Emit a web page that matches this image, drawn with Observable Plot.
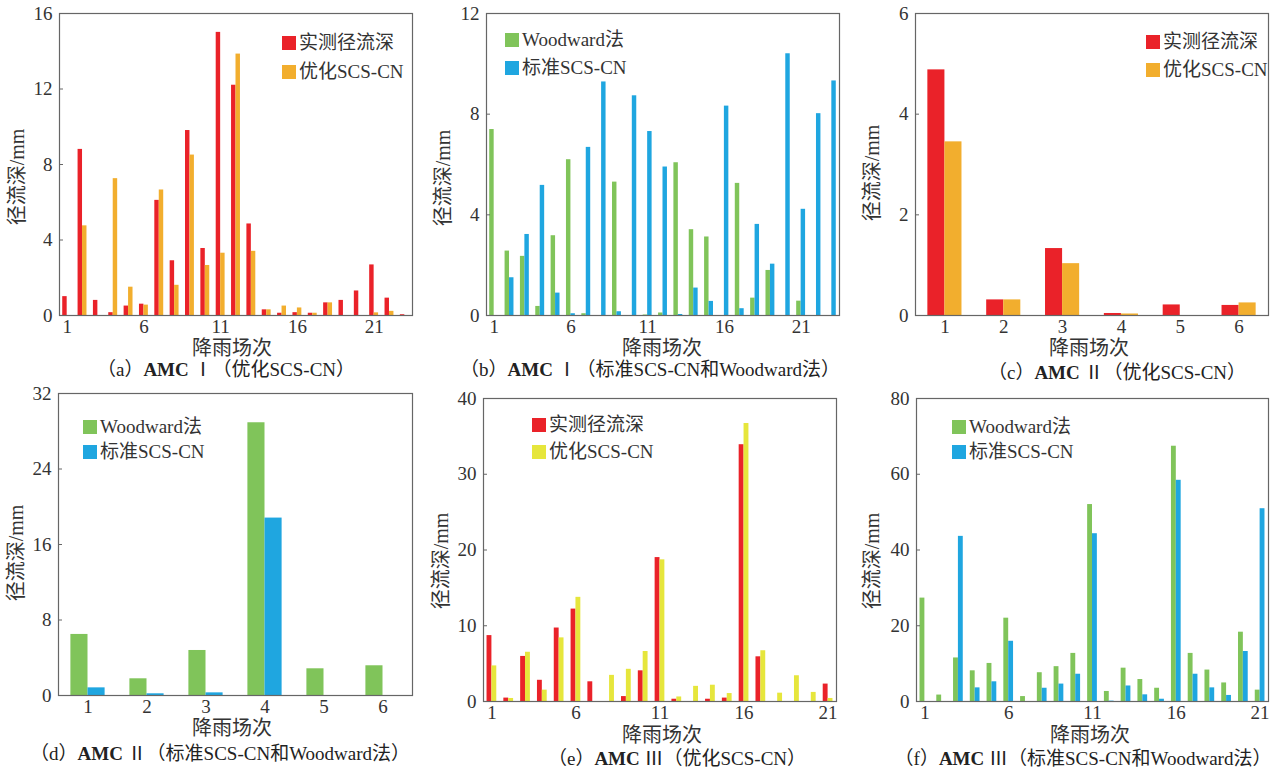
<!DOCTYPE html>
<html><head><meta charset="utf-8">
<script src="https://cdn.jsdelivr.net/npm/d3@7"></script>
<script src="https://cdn.jsdelivr.net/npm/@observablehq/plot@0.6"></script>
<style>
body{margin:0;background:#fff;}
#root{position:relative;width:1282px;height:770px;overflow:hidden;font-family:'Liberation Serif','Noto Sans CJK SC',serif;color:#333;background:#fff;}
.panel{position:absolute;}
.t{position:absolute;white-space:nowrap;transform:translate(-50%,-50%);line-height:1;}
.xl{font-size:20px;}
.yl{font-size:20px;transform:translate(-50%,-50%) rotate(-90deg);}
.cap{font-size:19px;color:#222;}
.cap b{font-weight:bold;}
.leg{position:absolute;font-size:19px;white-space:nowrap;line-height:20px;height:20px;}
.sw{display:inline-block;width:14px;height:14px;margin-right:3px;vertical-align:-1px;}
</style></head>
<body><div id="root"></div>
<script>
// ---- colours ----
const RED = "#ea2229", ORANGE = "#f2ae2e", GREEN = "#80c45a", BLUE = "#1fa6e0", YELLOW = "#e6e63c";

// ---- categories (rain events) ----
const events23 = [1,2,3,4,5,6,7,8,9,10,11,12,13,14,15,16,17,18,19,20,21,22,23];
const events21 = [1,2,3,4,5,6,7,8,9,10,11,12,13,14,15,16,17,18,19,20,21];
const events6 = [1,2,3,4,5,6];
const xticksLong = [1,6,11,16,21];
const xticksShort = [1,2,3,4,5,6];

// ---- series values (runoff depth, mm) ----
// (a) AMC I
const obsA = [1.0, 8.8, 0.8, 0.15, 0.5, 0.6, 6.1, 2.9, 9.8, 3.55, 15.0, 12.2, 4.85, 0.3, 0.12, 0.15, 0.12, 0.67, 0.8, 1.3, 2.68, 0.92, 0.04];
const optA = [0, 4.75, 0, 7.25, 1.5, 0.55, 6.65, 1.6, 8.5, 2.65, 3.3, 13.85, 3.4, 0.3, 0.5, 0.4, 0.12, 0.67, 0, 0, 0.14, 0.22, 0];
// (b) AMC I
const woodB = [7.39, 2.56, 2.35, 0.36, 3.17, 6.19, 0.07, 0, 5.3, 0, 0.02, 0.1, 6.07, 3.41, 3.12, 0, 5.25, 0.69, 1.79, 0, 0.57, 0, 0];
const stdB = [0, 1.5, 3.22, 5.17, 0.89, 0.07, 6.68, 9.28, 0.15, 8.73, 7.31, 5.9, 0.04, 1.09, 0.56, 8.32, 0.27, 3.62, 2.04, 10.4, 4.22, 8.02, 9.32];
// (c) AMC II
const obsC = [4.88, 0.31, 1.33, 0.04, 0.21, 0.2];
const optC = [3.45, 0.31, 1.03, 0.03, 0, 0.25];
// (d) AMC II
const woodD = [6.47, 1.77, 4.77, 28.9, 2.83, 3.15];
const stdD = [0.81, 0.18, 0.28, 18.8, 0, 0];
// (e) AMC III
const obsE = [8.7, 0.45, 5.95, 2.8, 9.7, 12.2, 2.6, 0, 0.65, 4.05, 19.0, 0.3, 0, 0.3, 0.45, 33.9, 5.9, 0, 0, 0, 2.3];
const optE = [4.7, 0.4, 6.5, 1.5, 8.4, 13.75, 0, 3.45, 4.25, 6.6, 18.7, 0.6, 2.0, 2.15, 1.05, 36.7, 6.7, 1.1, 3.4, 1.2, 0.4];
// (f) AMC III
const woodF = [27.3, 1.7, 11.5, 8.1, 10.05, 22.0, 1.3, 7.6, 9.2, 12.7, 52.0, 2.65, 8.8, 5.8, 3.5, 67.4, 12.7, 8.3, 4.9, 18.3, 3.0];
const stdF = [0, 0, 43.6, 3.6, 5.2, 15.9, 0, 3.5, 4.6, 7.2, 44.3, 0.1, 4.1, 1.76, 0.6, 58.4, 7.2, 3.6, 1.6, 13.2, 50.9];

// ---- text ----
const yLabel = "径流深/mm";
const xLabel = "降雨场次";
const legObs = "实测径流深", legOpt = "优化SCS-CN", legWood = "Woodward法", legStd = "标准SCS-CN";

const panels = [
  {left:0, top:0, width:427, height:340, ml:59, mr:15, mt:13, mb:25,
   events:events23, s:[obsA,optA], c:[RED,ORANGE], names:[legObs,legOpt], ymax:16, yticks:[0,4,8,12,16], xticks:xticksLong,
   xl:[232,348], yl:[17,177], cap:[226,369], capText:"（a）<b>AMC</b> Ⅰ（优化SCS-CN）", leg:[282,43,72]},
  {left:427, top:0, width:427, height:340, ml:59, mr:15, mt:13, mb:25,
   events:events23, s:[woodB,stdB], c:[GREEN,BLUE], names:[legWood,legStd], ymax:12, yticks:[0,4,8,12], xticks:xticksLong,
   xl:[662,348], yl:[443,178], cap:[650,369], capText:"（b）<b>AMC</b> Ⅰ（标准SCS-CN和Woodward法）", leg:[505,40,68]},
  {left:854, top:0, width:428, height:340, ml:61, mr:14, mt:13, mb:25,
   events:events6, s:[obsC,optC], c:[RED,ORANGE], names:[legObs,legOpt], ymax:6, yticks:[0,2,4,6], xticks:xticksShort,
   xl:[1089,348], yl:[872,173], cap:[1117,372], capText:"（c）<b>AMC</b> Ⅱ（优化SCS-CN）", leg:[1146,42,70]},
  {left:0, top:380, width:427, height:340, ml:58, mr:15, mt:13, mb:25,
   events:events6, s:[woodD,stdD], c:[GREEN,BLUE], names:[legWood,legStd], ymax:32, yticks:[0,8,16,24,32], xticks:xticksShort,
   xl:[232,728], yl:[16,553], cap:[220,753], capText:"（d）<b>AMC</b> Ⅱ（标准SCS-CN和Woodward法）", leg:[83,427,452]},
  {left:427, top:380, width:427, height:340, ml:56, mr:18, mt:18, mb:19,
   events:events21, s:[obsE,optE], c:[RED,YELLOW], names:[legObs,legOpt], ymax:40, yticks:[0,10,20,30,40], xticks:xticksLong,
   xl:[662,735], yl:[441,561], cap:[677,758], capText:"（e）<b>AMC</b> Ⅲ（优化SCS-CN）", leg:[532,425,452]},
  {left:854, top:380, width:428, height:340, ml:62, mr:14, mt:18, mb:19,
   events:events21, s:[woodF,stdF], c:[GREEN,BLUE], names:[legWood,legStd], ymax:80, yticks:[0,20,40,60,80], xticks:xticksLong,
   xl:[1090,735], yl:[872,561], cap:[1083,758], capText:"（f）<b>AMC</b> Ⅲ（标准SCS-CN和Woodward法）", leg:[952,427,452]}
];

const root = document.getElementById("root");
const HALF = 0.29; // bar width as a fraction of one event step

function addText(cls, html, x, y) {
  const d = document.createElement("div");
  d.className = "t " + cls;
  d.innerHTML = html;
  d.style.left = x + "px";
  d.style.top = y + "px";
  root.appendChild(d);
}

for (const p of panels) {
  const N = p.events.length;
  const marks = [];
  p.s.forEach((vals, k) => {
    const data = p.events.map((e, i) => ({e, v: vals[i]}));
    marks.push(Plot.rectY(data, {
      x1: d => k === 0 ? d.e - HALF : d.e,
      x2: d => k === 0 ? d.e : d.e + HALF,
      y: "v",
      fill: p.c[k]
    }));
  });
  marks.push(Plot.frame({stroke: "#666", strokeWidth: 1.2}));
  marks.push(Plot.axisX({ticks: p.xticks, tickSize: 0, tickPadding: 4, fontSize: 19, label: null, tickFormat: d => String(d)}));
  marks.push(Plot.axisY({ticks: p.yticks, tickSize: -4, tickPadding: 11, fontSize: 19, label: null, tickFormat: d => String(d), stroke: "#666"}));

  const chart = Plot.plot({
    width: p.width, height: p.height,
    marginLeft: p.ml, marginRight: p.mr, marginTop: p.mt, marginBottom: p.mb,
    x: {type: "linear", domain: [0.5, N + 0.5]},
    y: {domain: [0, p.ymax]},
    style: {fontFamily: "'Liberation Serif','Noto Sans CJK SC',serif", color: "#333", background: "transparent", overflow: "visible"},
    marks
  });
  const wrap = document.createElement("div");
  wrap.className = "panel";
  wrap.style.left = p.left + "px";
  wrap.style.top = p.top + "px";
  wrap.appendChild(chart);
  root.appendChild(wrap);

  addText("xl", xLabel, p.xl[0], p.xl[1]);
  addText("yl", yLabel, p.yl[0], p.yl[1]);
  addText("cap", p.capText, p.cap[0], p.cap[1]);

  [0, 1].forEach(k => {
    const l = document.createElement("div");
    l.className = "leg";
    l.style.left = p.leg[0] + "px";
    l.style.top = (p.leg[1 + k] - 10) + "px";
    l.innerHTML = `<span class="sw" style="background:${p.c[k]}"></span>${p.names[k]}`;
    root.appendChild(l);
  });
}
</script>
</body></html>
